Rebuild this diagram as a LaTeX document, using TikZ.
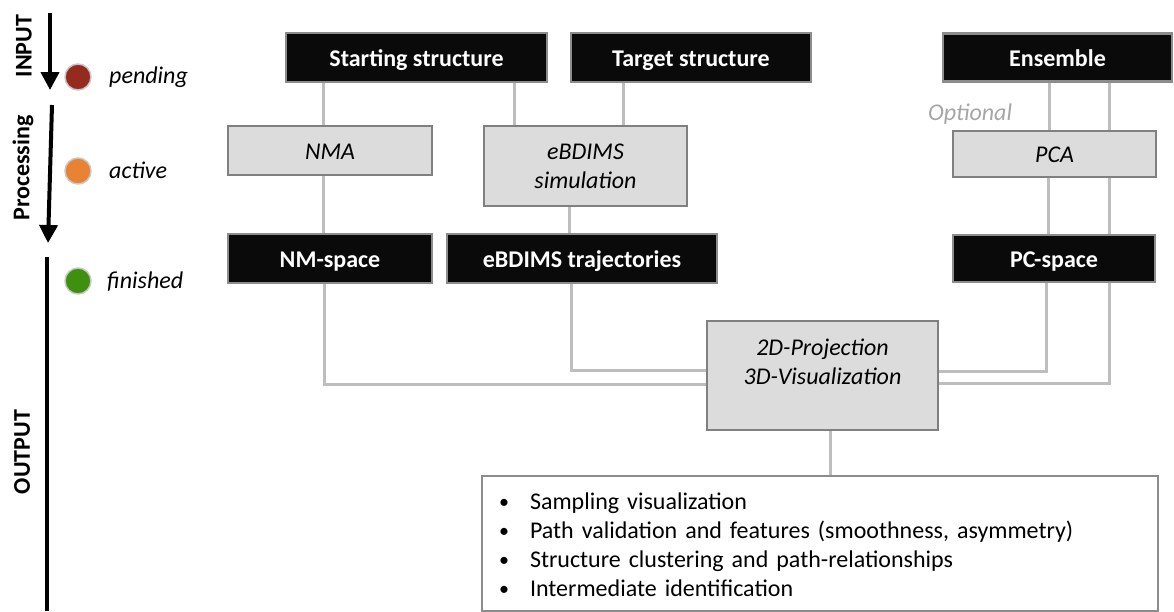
\documentclass[tikz,border=0pt]{standalone}
\usepackage{fontspec}
\setmainfont{Carlito}
\usetikzlibrary{arrows.meta,backgrounds}
\definecolor{boxblack}{HTML}{0A0A0A}
\definecolor{boxedge}{HTML}{8C8C8C}
\definecolor{boxgray}{HTML}{DCDCDC}
\definecolor{grayedge}{HTML}{808080}
\definecolor{connc}{HTML}{BEBEBE}
\definecolor{listedge}{HTML}{8C8C8C}
\definecolor{pendc}{HTML}{952A1E}
\definecolor{actc}{HTML}{E98232}
\definecolor{finc}{HTML}{40900F}
\definecolor{dotedge}{HTML}{C8C8C8}
\definecolor{optc}{HTML}{A6A6A6}
\newcommand{\bigfont}{\fontsize{24}{29}\selectfont}
\newcommand{\blt}{\makebox[32pt][l]{\hspace{1pt}\raisebox{1pt}{\fontsize{20}{20}\selectfont\textbullet}}}
\begin{document}
\begin{tikzpicture}[x=1pt,y=-1pt,
  every node/.style={font=\bigfont, inner sep=0pt},
  blackbox/.style={draw=boxedge, fill=boxblack, line width=2.5pt, text=white, font=\bigfont\bfseries, text height=17pt, text depth=0pt},
  graybox/.style={draw=grayedge, fill=boxgray, line width=2.5pt, font=\bigfont\itshape, align=center},
  oneline/.style={text height=17pt, text depth=0pt},
  listbox/.style={draw=listedge, fill=white, line width=2.5pt, font=\bigfont, align=left},
  conn/.style={draw=connc, line width=3pt},
  dot/.style={circle, draw=dotedge, line width=1.5pt, minimum size=26pt},
  bigarrow/.style={line width=4pt, -{Triangle[width=18pt,length=18pt]}},
  sidelabel/.style={font=\bigfont\bfseries, rotate=90},
  statelabel/.style={anchor=base west, font=\bigfont\itshape}
]
\useasboundingbox (0,0) rectangle (1174,611);

% ---- left column ----
\node[sidelabel] (linput) at (24,46) {INPUT};
\node[sidelabel] (lproc) at (23,168) {Processing};
\node[sidelabel] (lout) at (22,452) {OUTPUT};
\coordinate (a1s) at (50,13);
\coordinate (a1e) at (50,90);
\coordinate (a2s) at (52,105);
\coordinate (a2e) at (48,243);
\coordinate (a3s) at (47,257);
\coordinate (a3e) at (47,611);
\draw[bigarrow] (a1s) -- (a1e);
\draw[bigarrow] (a2s) -- (a2e);
\draw[line width=4pt] (a3s) -- (a3e);

\node[dot, fill=pendc] (cpend) at (78,77) {};
\node[dot, fill=actc] (cact) at (78,171) {};
\node[dot, fill=finc] (cfin) at (78,281) {};
\node[statelabel] (tpend) at (109,83) {pending};
\node[statelabel] (tact) at (109,178) {active};
\node[statelabel] (tfin) at (107,288) {finished};

% ---- boxes ----
\node[blackbox, minimum width=261, minimum height=49] (start) at (416.5,57.5) {Starting structure};
\node[blackbox, minimum width=240, minimum height=49] (target) at (691,57.5) {Target structure};
\node[blackbox, minimum width=229, minimum height=48] (ens) at (1057.5,57.5) {Ensemble};
\node[anchor=base west, font=\bigfont\itshape, text=optc] (opt) at (928,120) {Optional};

\node[graybox, oneline, minimum width=204, minimum height=49] (nma) at (330,150.5) {NMA};
\node[graybox, minimum width=203, minimum height=80] (sim) at (585.5,166) {eBDIMS\\simulation};
\node[graybox, oneline, minimum width=203, minimum height=46] (pca) at (1054.5,154) {PCA};

\node[blackbox, minimum width=204, minimum height=49] (nms) at (330,258.5) {NM-space};
\node[blackbox, minimum width=270, minimum height=49] (traj) at (582,258.5) {eBDIMS trajectories};
\node[blackbox, minimum width=202, minimum height=47] (pcs) at (1054,258.5) {PC-space};

\node[graybox, minimum width=231, minimum height=109] (proj) at (822.5,375.5)
  {\strut 2D-Projection\\\strut 3D-Visualization\\[-6pt]\strut};

\node[listbox, minimum width=676, minimum height=135, text width=644pt, inner xsep=16pt] (list) at (820,543.5)
  {\rule{0pt}{28pt}\blt Sampling visualization\\
   \strut\blt Path validation and features (smoothness, asymmetry)\\
   \strut\blt Structure clustering and path-relationships\\
   \strut\blt Intermediate identification};

% ---- connectors ----
\coordinate (xa) at (323,0);
\coordinate (xb) at (514,0);
\coordinate (xc) at (623,0);
\coordinate (xd) at (569,0);
\coordinate (xnm) at (324,0);
\coordinate (ynm) at (0,384);
\coordinate (xtr) at (571,0);
\coordinate (ytr) at (0,370);
\coordinate (xe1) at (1049,0);
\coordinate (xe1b) at (1048,0);
\coordinate (xpc) at (1046,0);
\coordinate (ypc) at (0,371);
\coordinate (xe2) at (1109,0);
\coordinate (ye2) at (0,383);
\coordinate (xpr) at (830,0);
\begin{pgfonlayer}{background}
\draw[conn] (start.south -| xa) -- (nma.north -| xa);
\draw[conn] (nma.south -| xa) -- (nms.north -| xa);
\draw[conn] (start.south -| xb) -- (sim.north -| xb);
\draw[conn] (target.south -| xc) -- (sim.north -| xc);
\draw[conn] (sim.south -| xd) -- (traj.north -| xd);
\draw[conn] (nms.south -| xnm) |- (proj.west |- ynm);
\draw[conn] (traj.south -| xtr) |- (proj.west |- ytr);
\draw[conn] (ens.south -| xe1) -- (pca.north -| xe1);
\draw[conn] (pca.south -| xe1b) -- (pcs.north -| xe1b);
\draw[conn] (pcs.south -| xpc) |- (proj.east |- ypc);
\draw[conn] (ens.south -| xe2) |- (proj.east |- ye2);
\draw[conn] (proj.south -| xpr) -- (list.north -| xpr);
\end{pgfonlayer}
\end{tikzpicture}
\end{document}
